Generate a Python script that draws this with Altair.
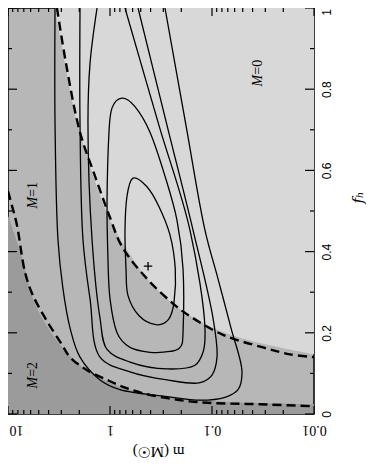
import altair as alt
import pandas as pd

W, H = 306, 406
LIGHT, MED, DARK = "#d8d8d8", "#b7b7b7", "#9b9b9b"

# ---- solid contours: log10(m) and f_h ----
c1_logm = [0.539, 0.539, 0.510, 0.461, 0.392, 0.294, 0.098, -0.098, -0.559, -0.882, -1.127, -1.255, -1.294, -1.186, -1.059, -0.931, -0.745, -0.539]
c1_fh = [1.000, 0.718, 0.429, 0.308, 0.212, 0.140, 0.084, 0.060, 0.043, 0.034, 0.041, 0.060, 0.104, 0.212, 0.333, 0.453, 0.711, 1.000]
c2_logm = [0.294, 0.294, 0.265, 0.196, 0.098, -0.196, -0.559, -0.882, -1.000, -1.049, -1.010, -0.814, -0.559, -0.275]
c2_fh = [1.000, 0.718, 0.429, 0.284, 0.140, 0.104, 0.084, 0.077, 0.096, 0.140, 0.236, 0.453, 0.711, 1.000]
c3_logm = [0.127, 0.196, 0.216, 0.176, 0.098, 0.029, -0.196, -0.559, -0.833, -0.912, -0.931, -0.784, -0.480, -0.147]
c3_fh = [1.000, 0.863, 0.718, 0.429, 0.236, 0.159, 0.128, 0.111, 0.120, 0.152, 0.212, 0.453, 0.711, 1.000]
# closed loops
c4_logm = [-0.118, -0.020, 0.010, 0.029, 0.020, 0.000, -0.069, -0.196, -0.392, -0.588, -0.686, -0.716, -0.716, -0.657, -0.539, -0.392, -0.245]
c4_fh = [0.778, 0.754, 0.694, 0.525, 0.381, 0.284, 0.200, 0.164, 0.152, 0.154, 0.164, 0.200, 0.357, 0.477, 0.586, 0.694, 0.757]
c5_logm = [-0.225, -0.167, -0.147, -0.157, -0.176, -0.285, -0.451, -0.574, -0.628, -0.640, -0.588, -0.476, -0.358]
c5_fh = [0.581, 0.537, 0.453, 0.357, 0.292, 0.242, 0.220, 0.233, 0.276, 0.357, 0.441, 0.513, 0.561]

# ---- dashed analytic boundaries ----
d1_logm = [0.520, 0.431, 0.294, 0.147, 0.000, -0.118, -0.363, -0.618, -0.784, -1.108, -1.500, -1.765, -2.000]
d1_fh = [1.000, 0.863, 0.694, 0.586, 0.484, 0.412, 0.333, 0.272, 0.241, 0.195, 0.164, 0.147, 0.140]
d2_logm = [1.000, 0.961, 0.912, 0.833, 0.755, 0.618, 0.471, 0.392, 0.225, 0.029, -0.127, -0.324, -0.559, -0.784, -1.010, -1.471, -2.000]
d2_fh = [0.549, 0.513, 0.465, 0.349, 0.292, 0.229, 0.171, 0.140, 0.108, 0.084, 0.067, 0.051, 0.039, 0.031, 0.027, 0.024, 0.019]

# ---- shaded regions (M=0 above, M=2 below) ----
m0_logm = [0.539, 0.441, 0.324, 0.147, 0.000, -0.196, -0.392, -0.686, -1.010, -1.373, -1.667, -2.000]
m0_fh = [1.000, 0.863, 0.718, 0.573, 0.477, 0.393, 0.325, 0.258, 0.212, 0.181, 0.164, 0.147]
m2_logm = [1.000, 0.902, 0.833, 0.755, 0.637, 0.490, 0.294, 0.098, -0.098, -0.294, -0.588, -1.078, -1.471, -2.000]
m2_fh = [0.489, 0.417, 0.357, 0.284, 0.224, 0.171, 0.120, 0.089, 0.067, 0.053, 0.041, 0.031, 0.027, 0.024]

# ---- annotations ----
lab_logm = [-1.451, 0.755, 0.755]
lab_fh = [0.843, 0.542, 0.099]
lab_val = ["=0", "=1", "=2"]
plus_logm = [-0.373]
plus_fh = [0.364]

x_major = [0.01, 0.1, 1, 10]
x_minor = [k * d for d in (0.01, 0.1, 1) for k in range(2, 10)]
y_major = [0, 0.2, 0.4, 0.6, 0.8, 1.0]
y_minor = [0.1, 0.3, 0.5, 0.7, 0.9]


def curve_df(pairs):
    rows = []
    for name, lm, fh in pairs:
        for i, (a, b) in enumerate(zip(lm, fh)):
            rows.append({"c": name, "i": i, "m": 10 ** a, "f": b})
    return pd.DataFrame(rows)


open_df = curve_df([("c1", c1_logm, c1_fh), ("c2", c2_logm, c2_fh), ("c3", c3_logm, c3_fh)])
closed_df = curve_df([("c4", c4_logm, c4_fh), ("c5", c5_logm, c5_fh)])
dash_df = curve_df([("d1", d1_logm, d1_fh), ("d2", d2_logm, d2_fh)])
m0_df = pd.DataFrame({"m": [10 ** a for a in m0_logm], "f": m0_fh, "f2": 1.0})
m2_df = pd.DataFrame({"m": [10 ** a for a in m2_logm], "f": m2_fh, "f2": 0.0})
lab_df = pd.DataFrame({"m": [10 ** a for a in lab_logm], "f": lab_fh, "t": lab_val})
plus_df = pd.DataFrame({"m": [10 ** a for a in plus_logm], "f": plus_fh})

xaxis = alt.Axis(
    values=x_major,
    labelExpr="datum.value < 0.05 ? '0.01' : datum.value < 0.5 ? '0.1' : datum.value < 5 ? '1' : '10'",
    labelAngle=180, labelAlign="center", labelBaseline="middle", labelPadding=15,
    labelFont="Liberation Serif", labelFontSize=14, labelColor="black",
    labelOffset={"condition": {"test": "datum.value > 5", "value": 8}, "value": 0},
    labelOverlap=False, ticks=False, domain=False, grid=False,
    title="m (M☉)", titleFont="Liberation Serif", titleFontSize=15, titleFontWeight="normal",
    titleAngle=180, titleAlign="center", titleBaseline="middle", titleX=150, titleY=37,
    titleColor="black",
)
yaxis = alt.Axis(
    orient="right", values=y_major,
    labelExpr="datum.value == 0 ? '0' : datum.value == 1 ? '1' : format(datum.value, '.1f')",
    labelAngle=270, labelAlign="center", labelBaseline="middle", labelPadding=12,
    labelFont="Liberation Sans", labelFontSize=12, labelColor="black",
    labelOffset={"condition": {"test": "datum.value > 0.9", "value": 4}, "value": 0},
    labelOverlap=False, ticks=False, domain=False, grid=False,
    title="fₕ", titleFont="DejaVu Serif", titleFontStyle="italic", titleFontSize=15,
    titleFontWeight="normal", titleAngle=270, titleAlign="center", titleBaseline="middle",
    titleX=43, titleY=189, titleColor="black",
)
xs = alt.Scale(type="log", domain=[0.01, 10], reverse=True)
ys = alt.Scale(domain=[0, 1], nice=False, zero=False)
X = alt.X("m:Q", scale=xs, axis=xaxis)
Y = alt.Y("f:Q", scale=ys, axis=yaxis)

light = alt.Chart(m0_df).mark_area(color=LIGHT, interpolate="catmull-rom").encode(x=X, y=Y, y2="f2:Q")
dark = alt.Chart(m2_df).mark_area(color=DARK, interpolate="catmull-rom").encode(x=X, y=Y, y2="f2:Q")
opens = alt.Chart(open_df).mark_line(color="black", strokeWidth=1.3, interpolate="catmull-rom").encode(
    x=X, y=Y, detail="c:N", order="i:Q")
closed = alt.Chart(closed_df).mark_line(color="black", strokeWidth=1.3, interpolate="cardinal-closed").encode(
    x=X, y=Y, detail="c:N", order="i:Q")
dashed = alt.Chart(dash_df).mark_line(color="black", strokeWidth=2.4, strokeDash=[9, 5],
                                      interpolate="catmull-rom").encode(x=X, y=Y, detail="c:N", order="i:Q")

tick_layers = []
for vals, ln in ((x_major, 8), (x_minor, 4)):
    tdf = pd.DataFrame({"m": vals})
    tick_layers.append(alt.Chart(tdf).mark_rule(color="black", strokeWidth=1.2).encode(
        x=X, y=alt.value(0), y2=alt.value(ln)))
    tick_layers.append(alt.Chart(tdf).mark_rule(color="black", strokeWidth=1.2).encode(
        x=X, y=alt.value(H), y2=alt.value(H - ln)))
for vals, ln in ((y_major, 9), (y_minor, 4)):
    tdf = pd.DataFrame({"f": vals})
    tick_layers.append(alt.Chart(tdf).mark_rule(color="black", strokeWidth=1.2).encode(
        y=Y, x=alt.value(0), x2=alt.value(ln)))
    tick_layers.append(alt.Chart(tdf).mark_rule(color="black", strokeWidth=1.2).encode(
        y=Y, x=alt.value(W), x2=alt.value(W - ln)))

lab_M = alt.Chart(lab_df).mark_text(text="M", font="Liberation Serif", fontStyle="italic", fontSize=14,
                                    angle=270, align="right", baseline="middle", dx=-3, color="black").encode(x=X, y=Y)
lab_v = alt.Chart(lab_df).mark_text(font="Liberation Serif", fontSize=14, angle=270, align="left",
                                    baseline="middle", dx=-3, color="black").encode(x=X, y=Y, text="t:N")
plus = alt.Chart(plus_df).mark_point(shape="M-1,0L1,0M0,-1L0,1", size=70, filled=False, color="black",
                                     strokeWidth=1.3, opacity=1).encode(x=X, y=Y)

chart = alt.layer(light, dark, opens, closed, dashed, *tick_layers, lab_M, lab_v, plus).properties(
    width=W, height=H,
    padding={"left": 0, "top": 0, "right": 52, "bottom": 44},
    autosize=alt.AutoSizeParams(type="none"),
).configure_view(stroke="black", strokeWidth=1.5, fill=MED)

chart.save("out.html", embed_options={"renderer": "svg", "actions": False})
